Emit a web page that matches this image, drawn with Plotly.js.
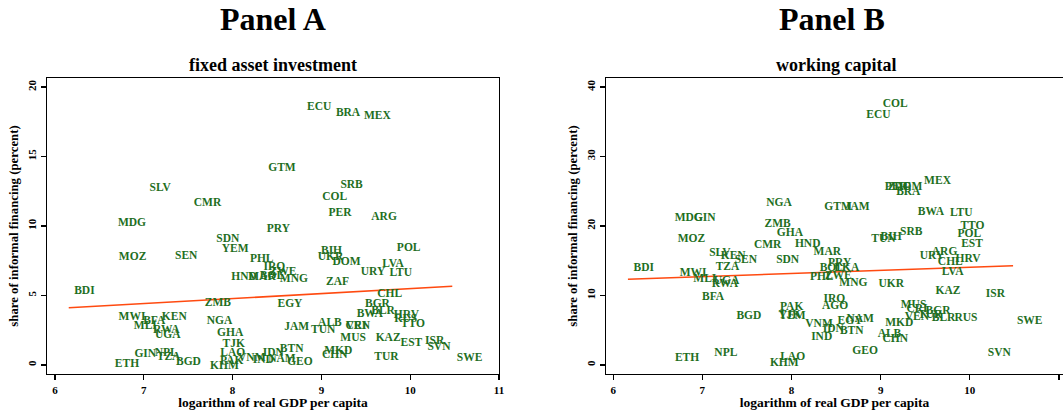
<!DOCTYPE html>
<html><head><meta charset="utf-8">
<script src="https://cdn.plot.ly/plotly-3.0.1.min.js"></script>
<style>html,body{margin:0;padding:0;background:#fff}#chart{width:1063px;height:415px}</style>
</head><body><div id="chart"></div>
<script>
// Panel A: fixed asset investment
const countriesA = ["ECU","BRA","MEX","GTM","SRB","COL","PER","ARG","SLV","CMR","MDG","PRY","SDN","YEM","MOZ","SEN","PHL","IRQ","HND","MAR","BOL","ZWE","MNG","BDI","ZMB","EGY","MWI","BFA","KEN","MLI","RWA","UGA","NGA","GHA","TJK","LAO","PAK","KHM","GIN","NPL","TZA","BGD","ETH","VNM","IND","IDN","BTN","NAM","GEO","BIH","UKR","DOM","POL","LVA","URY","LTU","ZAF","CHL","BGR","BWA","BLR","HRV","RUS","TTO","ALB","TUN","JAM","CRI","VEN","MUS","KAZ","EST","ISR","SVN","SWE","TUR","MKD","CHN"];
const gdpA = [8.975,9.30,9.63,8.556,9.34,9.15,9.21,9.706,7.185,7.717,6.867,8.515,7.946,8.028,6.874,7.478,8.328,8.47,8.129,8.331,8.444,8.567,8.69,6.331,7.834,8.646,6.867,7.118,7.343,7.017,7.253,7.27,7.852,7.972,8.013,8.002,7.99,7.908,7.017,7.253,7.279,7.503,6.811,8.216,8.346,8.458,8.665,8.556,8.758,9.114,9.103,9.283,9.983,9.807,9.582,9.893,9.182,9.77,9.631,9.545,9.695,9.957,9.949,10.03,9.096,9.02,8.721,9.39,9.41,9.357,9.751,10.013,10.275,10.324,10.669,9.733,9.189,9.15];
const shareA = [18.58,18.1,17.94,14.2,12.95,12.1,10.96,10.63,12.76,11.63,10.2,9.76,9.04,8.32,7.75,7.84,7.63,7.07,6.31,6.33,6.40,6.69,6.19,5.32,4.44,4.39,3.43,3.17,3.47,2.76,2.52,2.16,3.17,2.28,1.51,0.88,0.31,-0.05,0.77,0.84,0.53,0.19,0.05,0.48,0.36,0.84,1.13,0.43,0.24,8.2,7.75,7.39,8.4,7.24,6.67,6.6,5.97,5.09,4.37,3.65,3.91,3.6,3.29,2.93,3.0,2.52,2.71,2.82,2.78,1.92,1.92,1.56,1.73,1.27,0.48,0.6,1.01,0.72];
const fitGdpA = [6.155, 10.474];
const fitShareA = [4.12, 5.66];

// Panel B: working capital
const countriesB = ["COL","ECU","MEX","PER","ZAF","DOM","BRA","NGA","MDG","GIN","GTM","JAM","ZMB","BWA","LTU","TTO","POL","EST","SRB","BIH","TUN","ARG","URY","CHL","HRV","LVA","UKR","MNG","KAZ","ISR","SWE","SVN","MUS","CRI","BGR","VEN","TUR","BLR","RUS","MKD","ALB","CHN","GEO","NAM","EGY","BTN","IDN","VNM","IND","MOZ","CMR","HND","GHA","MAR","SLV","KEN","SEN","TZA","SDN","BDI","MWI","MLI","UGA","RWA","BFA","PRY","BOL","LKA","ZWE","PHL","IRQ","AGO","PAK","YEM","TJK","BGD","NPL","ETH","LAO","KHM"];
const gdpB = [9.163,8.975,9.638,9.174,9.208,9.31,9.31,7.86,6.848,7.028,8.522,8.736,7.845,9.564,9.904,10.03,9.994,10.025,9.343,9.118,9.031,9.717,9.575,9.781,9.98,9.807,9.118,8.694,9.755,10.287,10.672,10.331,9.369,9.407,9.643,9.407,9.556,9.706,9.957,9.208,9.099,9.163,8.826,8.77,8.657,8.676,8.47,8.309,8.339,6.879,7.733,8.182,7.983,8.402,7.197,7.346,7.489,7.283,7.957,6.343,6.897,7.028,7.272,7.253,7.121,8.54,8.452,8.62,8.526,8.339,8.481,8.489,8.002,8.009,7.983,7.522,7.264,6.829,8.013,7.919];
const shareB = [37.5,35.97,26.52,25.54,25.54,25.61,24.82,23.26,21.1,21.2,22.77,22.77,20.29,21.97,21.92,20.0,18.8,17.41,19.09,18.37,18.09,16.2,15.68,14.78,15.2,13.42,11.65,11.75,10.69,10.17,6.33,1.77,8.63,8.01,7.81,6.86,7.2,6.81,6.72,6.0,4.46,3.74,2.01,6.58,6.37,4.89,5.14,5.9,3.99,18.09,17.27,17.37,18.95,16.3,16.07,15.68,15.11,14.14,15.11,14.0,13.19,12.33,12.13,11.65,9.83,14.63,13.91,13.9,12.8,12.62,9.45,8.49,8.3,7.05,7.15,7.09,1.68,0.96,1.11,0.24];
const fitGdpB = [6.166, 10.485];
const fitShareB = [12.33, 14.29];

const xTicks = [6,7,8,9,10,11];
const yTicksA = [0,5,10,15,20];
const yTicksB = [0,10,20,30,40];

const FONT = "Liberation Serif, Times New Roman, serif";
const GREEN = "#1f6f1f";
const LINE = "#ff4a10";

const labelTrace = (x, y, t, xa, ya) => ({
  x: x, y: y, text: t, mode: "text", type: "scatter", xaxis: xa, yaxis: ya,
  textposition: "middle center", hoverinfo: "skip", cliponaxis: false,
  textfont: {family: FONT, size: 11.5, color: GREEN, weight: "bold"}
});
const fitTrace = (x, y, xa, ya) => ({
  x: x, y: y, mode: "lines", type: "scatter", xaxis: xa, yaxis: ya,
  line: {color: LINE, width: 1.5}, hoverinfo: "skip"
});

const data = [
  fitTrace(fitGdpA, fitShareA, "x", "y"),
  labelTrace(gdpA, shareA, countriesA, "x", "y"),
  fitTrace(fitGdpB, fitShareB, "x2", "y2"),
  labelTrace(gdpB, shareB, countriesB, "x2", "y2")
];

const axisCommon = {
  showgrid: false, zeroline: false, showline: true, linecolor: "#000", linewidth: 1.3,
  mirror: true, ticks: "outside", ticklen: 5, tickwidth: 1.2, tickcolor: "#000",
  tickfont: {family: FONT, size: 11, color: "#000", weight: "bold"}, automargin: false
};
const xTitle = {text: "logarithm of real GDP per capita", font: {family: FONT, size: 13.5, color: "#000", weight: "bold"}, standoff: 1};
const yTitle = {text: "share of informal financing (percent)", font: {family: FONT, size: 12.8, color: "#000", weight: "bold"}, standoff: 4};

const yDom = [1 - 374/415, 1 - 78/415];
const layout = {
  width: 1063, height: 415, margin: {l: 0, r: 0, t: 0, b: 0},
  paper_bgcolor: "#fff", plot_bgcolor: "#fff", showlegend: false,
  xaxis: Object.assign({}, axisCommon, {domain: [47/1063, 499/1063], range: [5.91, 11.0], tickvals: xTicks, anchor: "y", title: xTitle}),
  yaxis: Object.assign({}, axisCommon, {domain: yDom, range: [-0.65, 20.65], tickvals: yTicksA, tickangle: -90, anchor: "x", title: yTitle}),
  xaxis2: Object.assign({}, axisCommon, {domain: [606/1063, 1], range: [5.92, 11.045], tickvals: xTicks, anchor: "y2", title: xTitle}),
  yaxis2: Object.assign({}, axisCommon, {domain: yDom, range: [-1.3, 41.3], tickvals: yTicksB, tickangle: -90, anchor: "x2", title: yTitle}),
  annotations: [
    {text: "Panel A", xref: "paper", yref: "paper", x: 273/1063, y: 1 - 19/415, xanchor: "center", yanchor: "middle", showarrow: false, font: {family: FONT, size: 32, color: "#000", weight: "bold"}},
    {text: "Panel B", xref: "paper", yref: "paper", x: 832/1063, y: 1 - 19/415, xanchor: "center", yanchor: "middle", showarrow: false, font: {family: FONT, size: 32, color: "#000", weight: "bold"}},
    {text: "fixed asset investment", xref: "paper", yref: "paper", x: 273/1063, y: 1 - 65/415, xanchor: "center", yanchor: "middle", showarrow: false, font: {family: FONT, size: 18, color: "#000", weight: "bold"}},
    {text: "working capital", xref: "paper", yref: "paper", x: 836/1063, y: 1 - 65/415, xanchor: "center", yanchor: "middle", showarrow: false, font: {family: FONT, size: 18, color: "#000", weight: "bold"}}
  ]
};
Plotly.newPlot("chart", data, layout, {staticPlot: true, displayModeBar: false});
</script></body></html>
